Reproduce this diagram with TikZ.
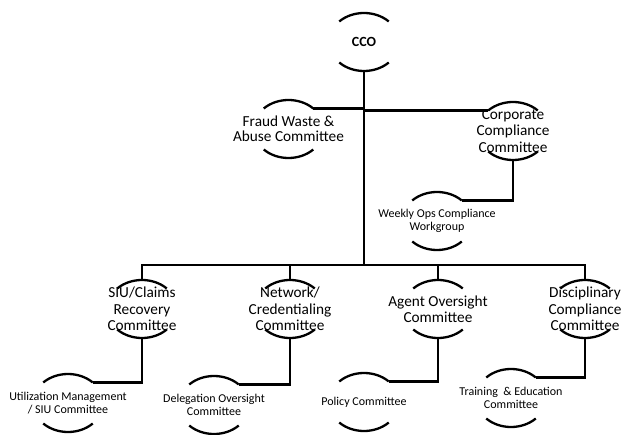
\documentclass[tikz,border=0pt]{standalone}
\usepackage{fontspec}
\setmainfont{Carlito}
\usetikzlibrary{calc}
\tikzset{
  big/.style={font=\fontsize{15.3}{16.5}\selectfont, align=center, inner sep=0pt},
  small/.style={font=\fontsize{12}{13.2}\selectfont, align=center, inner sep=0pt},
  conn/.style={line width=2.9pt},
  rim/.pic={
    \draw[line width=2.3pt] (45:35 and 29) arc[start angle=45,end angle=135,x radius=35,y radius=29];
    \draw[line width=2.3pt] (225:35 and 29) arc[start angle=225,end angle=315,x radius=35,y radius=29];
  }
}
\begin{document}
\begin{tikzpicture}[x=1pt,y=1pt]
\useasboundingbox (0,0) rectangle (621,434);
% nodes
\node[big,font=\fontsize{14}{16.5}\selectfont\bfseries] (cco) at (364,392) {CCO};
\node[big,font=\fontsize{15.3}{15.2}\selectfont] (fraud) at (288.5,305) {Fraud Waste \&\\Abuse Committee};
\node[big] (corp) at (513,303) {Corporate\\Compliance\\Committee};
\node[small] (weekly) at (437,213) {Weekly Ops Compliance\\Workgroup};
\node[big] (siu) at (142,125) {SIU/Claims\\Recovery\\Committee};
\node[big] (net) at (290,125) {Network/\\Credentialing\\Committee};
\node[big] (agent) at (438,125) {Agent Oversight\\Committee};
\node[big] (disc) at (585,125) {Disciplinary\\Compliance\\Committee};
\node[small] (util) at (68,31) {Utilization Management\\/ SIU Committee};
\node[small] (deleg) at (214,29) {Delegation Oversight\\Committee};
\node[small] (policy) at (364,32) {Policy Committee};
\node[small] (train) at (511,36) {Training~~\& Education\\Committee};
% rims
\foreach \n in {cco,fraud,corp,weekly,siu,net,agent,disc,util,deleg,policy,train}
  \pic at (\n) {rim};
% helper coordinates
\coordinate (bar) at ($(siu)+(0,44)$);
\path (fraud) ++(45:35 and 29) coordinate (fraudtr);
\path (corp) ++(135:35 and 29) coordinate (corptl);
\path (weekly) ++(45:35 and 29) coordinate (weeklytr);
\path (util) ++(45:35 and 29) coordinate (utiltr);
\path (deleg) ++(45:35 and 29) coordinate (delegtr);
\path (policy) ++(45:35 and 29) coordinate (policytr);
\path (train) ++(45:35 and 29) coordinate (traintr);
% connectors
\draw[conn] ($(cco)+(0,-29)$) -- (bar -| cco);
\draw[conn] (fraudtr) -- (fraudtr -| cco);
\draw[conn] (cco |- corptl) -- (corptl);
\draw[conn] ($(corp)+(0,-29)$) |- (weeklytr);
\draw[conn] ($(siu)+(0,29)$) |- (bar) -| ($(disc)+(0,29)$);
\draw[conn] ($(net)+(0,29)$) -- (bar -| net);
\draw[conn] ($(agent)+(0,29)$) -- (bar -| agent);
\draw[conn] ($(siu)+(0,-29)$) |- (utiltr);
\draw[conn] ($(net)+(0,-29)$) |- (delegtr);
\draw[conn] ($(agent)+(0,-29)$) |- (policytr);
\draw[conn] ($(disc)+(0,-29)$) |- (traintr);
\end{tikzpicture}
\end{document}
